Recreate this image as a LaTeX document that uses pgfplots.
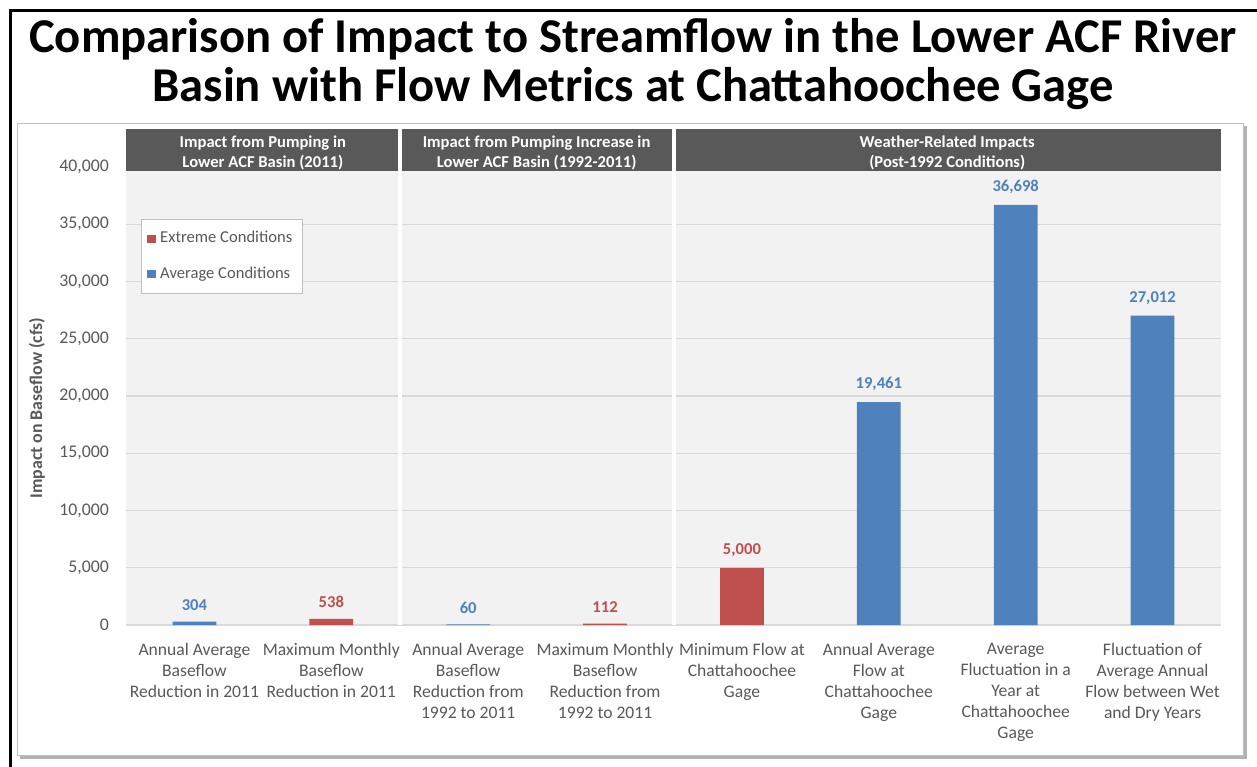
\documentclass[border=0pt]{standalone}
\usepackage{pgfplots}
\pgfplotsset{compat=1.18}
\usepackage{fontspec}
\setmainfont{Carlito}
\definecolor{xred}{HTML}{C0504D}
\definecolor{xblue}{HTML}{4F81BD}
\definecolor{hdr}{HTML}{595959}
\definecolor{bg}{HTML}{F2F2F2}
\definecolor{grd}{HTML}{D9D9D9}
\definecolor{txt}{HTML}{595959}
\begin{document}
\begin{tikzpicture}
\begin{scope}[x=0.5pt,y=-0.5pt]
\useasboundingbox (0,0) rectangle (1257,766);
\fill[black!30] (20,126) rectangle (1247,759);
\filldraw[fill=white,draw=black!25] (17,123) rectangle (1243,755);
\draw[line width=1.5pt] (10,775) -- (10,10) -- (1265,10);
\node[align=center, font=\fontsize{24.3}{24.8}\selectfont\bfseries] at (633,64) {Comparison of Impact to Streamflow in the Lower ACF River\\Basin with Flow Metrics at Chattahoochee Gage};
\end{scope}
\begin{axis}[
  at={(63pt,-312.5pt)}, anchor=south west,
  scale only axis, width=547.5pt, height=248pt,
  xmin=-0.5, xmax=7.5, ymin=0, ymax=43318.8,
  axis background/.style={fill=bg},
  axis line style={draw=none},
  major tick length=0pt,
  ytick={0,5000,...,40000},
  scaled y ticks=false,
  ymajorgrids, grid style={grd, line width=0.6pt},
  xtick={0,...,7},
  xticklabels={{Annual Average\\Baseflow\\Reduction in 2011},{Maximum Monthly\\Baseflow\\Reduction in 2011},{Annual Average\\Baseflow\\Reduction from\\1992 to 2011},{Maximum Monthly\\Baseflow\\Reduction from\\1992 to 2011},{Minimum Flow at\\Chattahoochee\\Gage},{Annual Average\\Flow at\\Chattahoochee\\Gage},{Average\\Fluctuation in a\\Year at\\Chattahoochee\\Gage},{Fluctuation of\\Average Annual\\Flow between Wet\\and Dry Years}},
  xticklabel style={align=center, font=\fontsize{8.8}{10.5}\selectfont, text=txt, yshift=-5.5pt},
  yticklabel style={font=\fontsize{8.9}{10}\selectfont, text=txt, xshift=-5pt},
  /pgf/number format/fixed, /pgf/number format/precision=0,
  /pgf/number format/1000 sep={,}, /pgf/number format/assume math mode=true,
  ylabel={Impact on Baseflow (cfs)},
  ylabel style={at={(axis description cs:-0.0813,0.4375)}, anchor=center, font=\fontsize{8.9}{10}\selectfont\bfseries, text=txt},
  ybar, bar width=0.32,
  legend style={at={(0.0137,0.8185)}, anchor=north west, draw=black!25, fill=white, font=\fontsize{8.3}{10}\selectfont, text=txt, row sep=6.5pt, inner xsep=3pt, inner ysep=4pt},
  legend cell align=left,
]
\addplot[fill=xred, draw=none, bar shift=0pt,
  legend image code/.code={\fill[xred] (0pt,-2.1pt) rectangle (4.4pt,2.1pt);},
  nodes near coords, every node near coord/.append style={text=xred, font=\fontsize{8.3}{10}\selectfont\bfseries, yshift=2pt}]
  coordinates {(1,538) (3,112) (4,5000)};
\addlegendentry{Extreme Conditions}
\addplot[fill=xblue, draw=none, bar shift=0pt,
  legend image code/.code={\fill[xblue] (0pt,-2.1pt) rectangle (4.4pt,2.1pt);},
  nodes near coords, every node near coord/.append style={text=xblue, font=\fontsize{8.3}{10}\selectfont\bfseries, yshift=2pt}]
  coordinates {(0,304) (2,60) (5,19461) (6,36698) (7,27012)};
\addlegendentry{Average Conditions}
\fill[hdr] (rel axis cs:0,0.9153) rectangle (rel axis cs:1,1);
\draw[white,line width=2pt] (axis cs:1.5,0) -- (axis cs:1.5,43318.8);
\draw[white,line width=2pt] (axis cs:3.5,0) -- (axis cs:3.5,43318.8);
\node[text=white, align=center, font=\fontsize{8.3}{10}\selectfont\bfseries, yshift=-1.5pt] at ({axis cs:0.5,0} |- {rel axis cs:0,0.9577}) {Impact from Pumping in\\Lower ACF Basin (2011)};
\node[text=white, align=center, font=\fontsize{8.3}{10}\selectfont\bfseries, yshift=-1.5pt] at ({axis cs:2.5,0} |- {rel axis cs:0,0.9577}) {Impact from Pumping Increase in\\Lower ACF Basin (1992-2011)};
\node[text=white, align=center, font=\fontsize{8.3}{10}\selectfont\bfseries, yshift=-1.5pt] at ({axis cs:5.5,0} |- {rel axis cs:0,0.9577}) {Weather-Related Impacts\\(Post-1992 Conditions)};
\end{axis}
\end{tikzpicture}
\end{document}
